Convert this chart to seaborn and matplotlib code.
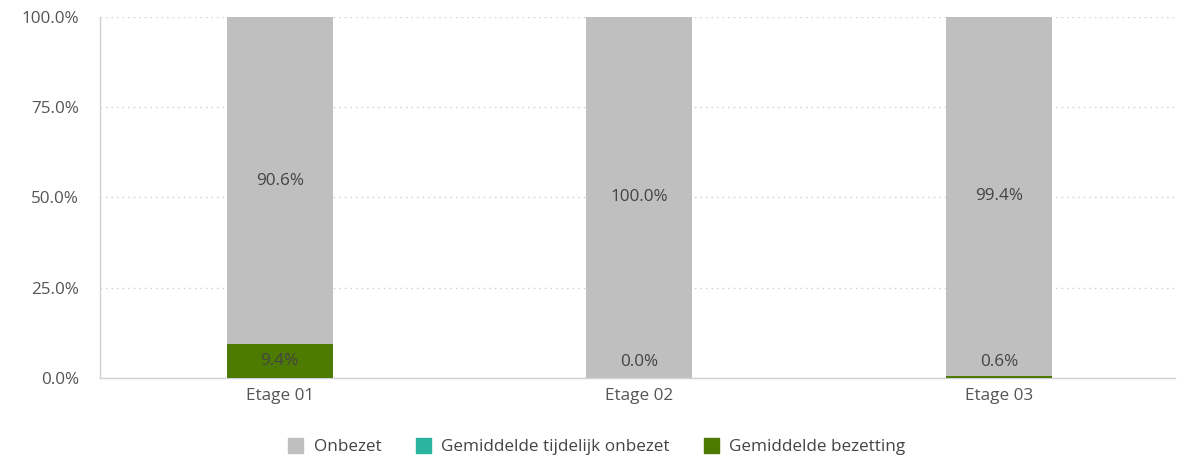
import matplotlib
matplotlib.use("Agg")
import matplotlib.pyplot as plt
import matplotlib.patches as mpatches
import seaborn as sns
import pandas as pd
import numpy as np

categories = ["Etage 01", "Etage 02", "Etage 03"]
bezetting = [9.4, 0.0, 0.6]
tijdelijk_onbezet = [0.0, 0.0, 0.0]
onbezet = [90.6, 100.0, 99.4]
yticks = [0, 25, 50, 75, 100]

c_onb = "#bfbfbf"
c_tij = "#2bb5a0"
c_bez = "#4d7a00"
txt = "#555555"

sns.set_theme(style="white")
plt.rcParams['font.family'] = ['Open Sans', 'DejaVu Sans']

fig = plt.figure(figsize=(11.82, 4.57), dpi=100)
ax = fig.add_axes([0.0846, 0.1729, 0.9094, 0.7899])

bez = np.array(bezetting)
tij = np.array(tijdelijk_onbezet)
onb = np.array(onbezet)
df = pd.DataFrame({"cat": categories, "total": bez + tij + onb,
                   "mid": bez + tij, "low": bez})

w = 0.295
kw = dict(saturation=1, width=w, ax=ax, linewidth=0, edgecolor="none")
sns.barplot(data=df, x="cat", y="total", color=c_onb, zorder=2, **kw)
sns.barplot(data=df, x="cat", y="mid", color=c_tij, zorder=3, **kw)
sns.barplot(data=df, x="cat", y="low", color=c_bez, zorder=4, **kw)

fs = 12.3
for i in range(len(categories)):
    ylow = max(bez[i] / 2, 4.4)
    ax.text(i, ylow, f"{bez[i]:.1f}%", ha="center", va="center", fontsize=fs, color="#444444", zorder=5)
    ytop = bez[i] + tij[i] + onb[i] / 2
    ax.text(i, ytop, f"{onb[i]:.1f}%", ha="center", va="center", fontsize=fs, color="#444444", zorder=5)

ax.set_xlim(-0.5, 2.49)
ax.set_ylim(0, 100)
ax.set_yticks(yticks)
ax.set_yticklabels([f"{v:.1f}%" for v in yticks])
ax.set_xlabel("")
ax.set_ylabel("")
ax.tick_params(axis="both", colors=txt, labelsize=fs, length=0)
ax.tick_params(axis="y", pad=15)
ax.tick_params(axis="x", pad=7)
ax.yaxis.grid(True, linestyle=(0, (1, 3)), color="#cccccc", linewidth=1, zorder=0)
ax.xaxis.grid(False)
ax.set_axisbelow(True)
for s in ["top", "right"]:
    ax.spines[s].set_visible(False)
ax.spines["left"].set_color("#d0d0d8")
ax.spines["bottom"].set_color("#d0d0d8")
ax.spines["left"].set_linewidth(1)
ax.spines["bottom"].set_linewidth(1)

handles = [mpatches.Patch(color=c_onb, label="Onbezet"),
           mpatches.Patch(color=c_tij, label="Gemiddelde tijdelijk onbezet"),
           mpatches.Patch(color=c_bez, label="Gemiddelde bezetting")]
leg = fig.legend(handles=handles, loc="center", bbox_to_anchor=(0.505, 0.022), ncol=3,
                 frameon=False, fontsize=fs, handlelength=0.9, handleheight=0.9,
                 handletextpad=0.6, columnspacing=2.0)
for t in leg.get_texts():
    t.set_color("#444444")

fig.savefig("out.png", dpi=100)
